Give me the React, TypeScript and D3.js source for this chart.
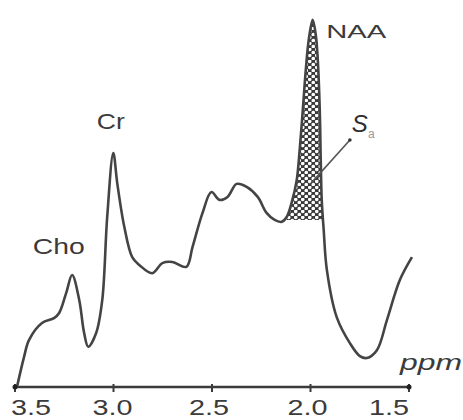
import React, { useEffect, useRef } from "react";
import * as d3 from "d3";

// spectrum trace (ppm, relative intensity)
const ppm = [
  3.49, 3.454, 3.429, 3.363, 3.302, 3.276, 3.24, 3.21, 3.174, 3.149, 3.128,
  3.088, 3.057, 3.032, 3.001, 2.981, 2.945, 2.905, 2.869, 2.803, 2.752, 2.701,
  2.63, 2.599, 2.548, 2.503, 2.462, 2.421, 2.375, 2.324, 2.268, 2.223, 2.182,
  2.146, 2.121, 2.095, 2.07, 2.055, 2.039, 2.024, 2.009, 1.989, 1.973, 1.963,
  1.953, 1.948, 1.943, 1.933, 1.917, 1.867, 1.8, 1.749, 1.714, 1.663, 1.612,
  1.546, 1.485,
];
const intensity = [
  0, 8.1, 12.6, 17.2, 18.5, 19.9, 25.3, 30.1, 23.4, 14.5, 10.8, 14.5, 23.4,
  45.7, 62.9, 54.8, 43.0, 34.9, 32.8, 30.6, 33.3, 33.6, 32.3, 37.6, 46.8, 52.4,
  50.3, 51.1, 54.6, 53.8, 51.1, 46.8, 44.9, 44.4, 45.7, 49.7, 55.6, 63.7, 74.5,
  85.2, 93.3, 98.7, 94.6, 87.9, 74.5, 61.0, 50.3, 42.2, 31.5, 18.8, 11.8, 8.3,
  7.8, 9.9, 18.0, 28.8, 34.9,
];

const ticks = [3.5, 3.0, 2.5, 2.0, 1.5];
const tickLabels = ["3.5", "3.0", "2.5", "2.0", "1.5"];

// hatched area S_a under NAA, above this level
const hatchFrom = 2.14;
const hatchTo = 1.935;
const hatchBase = 44.9;

// peak labels: text, ppm, intensity at baseline
const peakNames = ["Cho", "Cr", "NAA"];
const peakPpm = [3.41, 3.085, 1.92];
const peakY = [35.8, 69.4, 93.8];

export default function App() {
  const svgRef = useRef<SVGSVGElement>(null);

  useEffect(() => {
    const width = 463;
    const height = 420;
    const svg = d3.select(svgRef.current);
    svg.selectAll("*").remove();
    svg.attr("width", width).attr("height", height);

    const x = d3.scaleLinear().domain([3.5, 1.5]).range([15, 409]);
    const y = d3.scaleLinear().domain([0, 100]).range([387, 15]);
    const ink = "#3b3b3b";
    const font = "'Liberation Sans', Arial, sans-serif";

    const data = ppm.map((p, i) => ({ p, v: intensity[i] }));

    const defs = svg.append("defs");
    const pat = defs
      .append("pattern")
      .attr("id", "hatch")
      .attr("patternUnits", "userSpaceOnUse")
      .attr("width", 7)
      .attr("height", 6);
    pat.append("rect").attr("width", 7).attr("height", 6).attr("fill", "#3a3a3a");
    pat.append("circle").attr("cx", 1.75).attr("cy", 1.5).attr("r", 1.8).attr("fill", "#fff");
    pat.append("circle").attr("cx", 5.25).attr("cy", 4.5).attr("r", 1.8).attr("fill", "#fff");

    defs
      .append("clipPath")
      .attr("id", "naaClip")
      .append("rect")
      .attr("x", x(hatchFrom))
      .attr("y", 0)
      .attr("width", x(hatchTo) - x(hatchFrom))
      .attr("height", y(hatchBase));

    const curve = d3.curveCatmullRom.alpha(0.5);

    const area = d3
      .area<{ p: number; v: number }>()
      .x((d) => x(d.p))
      .y0(y(0))
      .y1((d) => y(d.v))
      .curve(curve);

    svg
      .append("path")
      .datum(data)
      .attr("d", area)
      .attr("fill", "url(#hatch)")
      .attr("clip-path", "url(#naaClip)");

    const line = d3
      .line<{ p: number; v: number }>()
      .x((d) => x(d.p))
      .y((d) => y(d.v))
      .curve(curve);

    svg
      .append("path")
      .datum(data)
      .attr("d", line)
      .attr("fill", "none")
      .attr("stroke", "#444")
      .attr("stroke-width", 2.6)
      .attr("stroke-linejoin", "round");

    // x axis
    svg
      .append("line")
      .attr("x1", x(3.5))
      .attr("x2", x(1.5))
      .attr("y1", y(0))
      .attr("y2", y(0))
      .attr("stroke", ink)
      .attr("stroke-width", 2.5);

    svg
      .selectAll(".tick")
      .data(ticks)
      .enter()
      .append("line")
      .attr("x1", (d) => x(d))
      .attr("x2", (d) => x(d))
      .attr("y1", y(0) - 3)
      .attr("y2", y(0) + 5)
      .attr("stroke", ink)
      .attr("stroke-width", 2);

    svg
      .selectAll(".end")
      .data([3.5, 1.5])
      .enter()
      .append("circle")
      .attr("cx", (d) => x(d))
      .attr("cy", y(0))
      .attr("r", 2.5)
      .attr("fill", "#222");

    // the labels sit a little inwards of their ticks in the original
    const nudge = [16, -1, -3, -3, -20];
    svg
      .selectAll(".tl")
      .data(ticks)
      .enter()
      .append("text")
      .attr("x", (d, i) => x(d) + nudge[i])
      .attr("y", 415)
      .attr("text-anchor", "middle")
      .attr("font-family", font)
      .attr("font-size", 22)
      .attr("fill", ink)
      .attr("textLength", 40)
      .attr("lengthAdjust", "spacingAndGlyphs")
      .text((d, i) => tickLabels[i]);

    svg
      .append("text")
      .attr("x", 400)
      .attr("y", 370)
      .attr("font-family", font)
      .attr("font-style", "italic")
      .attr("font-size", 22)
      .attr("fill", ink)
      .attr("textLength", 62)
      .attr("lengthAdjust", "spacingAndGlyphs")
      .text("ppm");

    // peak labels
    const labelWidth = [52, 28, 60];
    const labelSize = [22, 22, 18];
    peakNames.forEach((name, i) => {
      svg
        .append("text")
        .attr("x", x(peakPpm[i]))
        .attr("y", y(peakY[i]))
        .attr("font-family", font)
        .attr("font-size", labelSize[i])
        .attr("fill", ink)
        .attr("textLength", labelWidth[i])
        .attr("lengthAdjust", "spacingAndGlyphs")
        .text(name);
    });

    // S_a annotation with leader line into the hatched area
    svg
      .append("line")
      .attr("x1", x(1.8))
      .attr("y1", y(66.4))
      .attr("x2", x(2.0))
      .attr("y2", y(54.6))
      .attr("stroke", "#555")
      .attr("stroke-width", 1.6);
    svg
      .append("circle")
      .attr("cx", x(1.8))
      .attr("cy", y(66.4))
      .attr("r", 1.8)
      .attr("fill", "#333");

    const s = svg
      .append("text")
      .attr("x", x(1.79))
      .attr("y", y(68.5))
      .attr("font-family", font)
      .attr("font-style", "italic")
      .attr("font-size", 24)
      .attr("fill", "#2e2e2e");
    s.append("tspan").text("S");
    s.append("tspan")
      .attr("dy", 6)
      .attr("font-size", 12)
      .attr("font-style", "normal")
      .attr("fill", "#999")
      .text("a");
  }, []);

  return (
    <svg
      ref={svgRef}
      style={{ position: "absolute", left: 0, top: 0, background: "#fff" }}
    />
  );
}
